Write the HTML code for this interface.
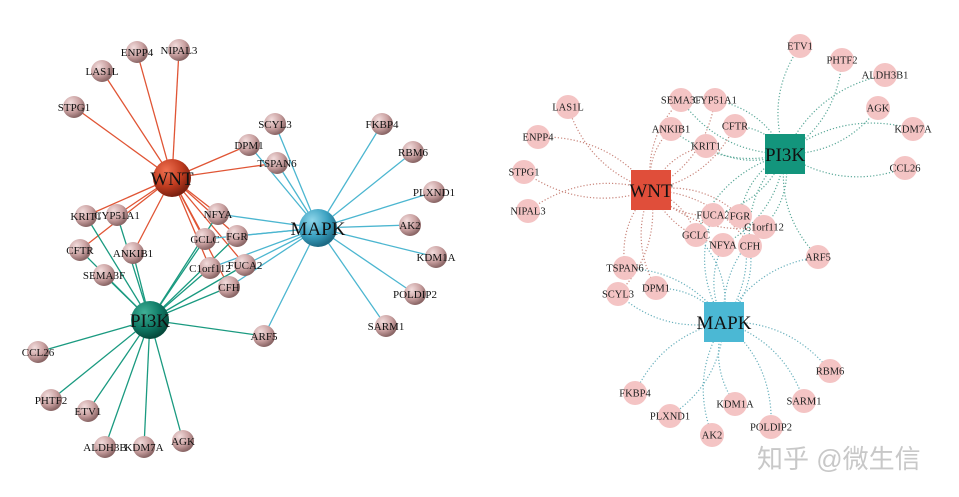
<!DOCTYPE html>
<html><head><meta charset="utf-8"><style>
html,body{margin:0;padding:0;background:#fff;}
svg{display:block;}
text{font-family:"Liberation Serif",serif;}
</style></head><body>
<svg id="s" width="959" height="497" viewBox="0 0 959 497" xmlns="http://www.w3.org/2000/svg">
<defs>
<radialGradient id="gn" cx="35%" cy="30%" r="70%"><stop offset="0" stop-color="#f2dcdc"/><stop offset="0.6" stop-color="#c9a0a0"/><stop offset="1" stop-color="#8a6666"/></radialGradient>
<radialGradient id="gw" cx="35%" cy="30%" r="70%"><stop offset="0" stop-color="#f07050"/><stop offset="0.6" stop-color="#c03c20"/><stop offset="1" stop-color="#7a2010"/></radialGradient>
<radialGradient id="gm" cx="35%" cy="30%" r="70%"><stop offset="0" stop-color="#8fd6ea"/><stop offset="0.6" stop-color="#3aa0c0"/><stop offset="1" stop-color="#1d6a84"/></radialGradient>
<radialGradient id="gp" cx="35%" cy="30%" r="70%"><stop offset="0" stop-color="#40b096"/><stop offset="0.6" stop-color="#0f7a66"/><stop offset="1" stop-color="#064a3c"/></radialGradient>
</defs>
<g id="L"></g><g id="R"></g>
<text x="757" y="468" font-family="'Noto Sans CJK SC',sans-serif" font-size="26" fill="#c8c8c8" style="font-family:'Liberation Sans','Noto Sans CJK SC',sans-serif">知乎 @微生信</text>
</svg>
<script>
var NS="http://www.w3.org/2000/svg";
function el(p,t,a,txt){var e=document.createElementNS(NS,t);for(var k in a)e.setAttribute(k,a[k]);if(txt!==undefined)e.textContent=txt;p.appendChild(e);return e;}
var L=document.getElementById("L"),R=document.getElementById("R");
// Left
var LH={WNT:[172,178,"#e05535","gw"],MAPK:[318,228,"#4cb6d0","gm"],PI3K:[150,320,"#1a9a80","gp"]};
var LN={NIPAL3:[179,50],ENPP4:[137,52],LAS1L:[102,71],STPG1:[74,107],SCYL3:[275,124],DPM1:[249,145],TSPAN6:[277,163],FKBP4:[382,124],RBM6:[413,152],PLXND1:[434,192],AK2:[410,225],KDM1A:[436,257],POLDIP2:[415,294],SARM1:[386,326],KRIT1:[86,216],CYP51A1:[117,215],NFYA:[218,214],CFTR:[80,250],ANKIB1:[133,253],GCLC:[205,239],FGR:[237,236],C1orf112:[210,268],FUCA2:[245,265],SEMA3F:[104,275],CFH:[229,287],ARF5:[264,336],CCL26:[38,352],PHTF2:[51,400],ETV1:[88,411],ALDH3B:[105,447],KDM7A:[144,447],AGK:[183,441]};
var LE={WNT:"NIPAL3 ENPP4 LAS1L STPG1 DPM1 TSPAN6 KRIT1 CYP51A1 CFTR ANKIB1 NFYA GCLC FGR C1orf112 FUCA2 CFH",
MAPK:"SCYL3 DPM1 TSPAN6 FKBP4 RBM6 PLXND1 AK2 KDM1A POLDIP2 SARM1 NFYA FGR GCLC C1orf112 FUCA2 CFH ARF5",
PI3K:"KRIT1 CYP51A1 CFTR ANKIB1 SEMA3F GCLC C1orf112 FGR NFYA CFH FUCA2 ARF5 CCL26 PHTF2 ETV1 ALDH3B KDM7A AGK"};
for(var h in LE){LE[h].split(" ").forEach(function(n){el(L,"line",{x1:LH[h][0],y1:LH[h][1],x2:LN[n][0],y2:LN[n][1],stroke:LH[h][2],"stroke-width":1.3});});}
for(var n in LN){var p=LN[n];el(L,"circle",{cx:p[0],cy:p[1],r:11,fill:"url(#gn)"});el(L,"text",{x:p[0],y:p[1]+4,"text-anchor":"middle","font-size":11,fill:"#111"},n);}
for(var h in LH){var p=LH[h];el(L,"circle",{cx:p[0],cy:p[1],r:19,fill:"url(#"+p[3]+")"});el(L,"text",{x:p[0],y:p[1]+7,"text-anchor":"middle","font-size":19,fill:"#111"},h);}
// Right
var RH={WNT:[651,190,"#e04e3a","#c9867c"],PI3K:[785,154,"#13957c","#5aa898"],MAPK:[724,322,"#4bb8d4","#68b0bc"]};
var RN={ETV1:[800,46],PHTF2:[842,60],ALDH3B1:[885,75],AGK:[878,108],KDM7A:[913,129],CCL26:[905,168],LAS1L:[568,107],ENPP4:[538,137],STPG1:[524,172],NIPAL3:[528,211],SEMA3F:[681,100],CYP51A1:[715,100],ANKIB1:[671,129],CFTR:[735,126],KRIT1:[706,146],FUCA2:[713,215],FGR:[740,216],C1orf112:[764,227],GCLC:[696,235],NFYA:[723,245],CFH:[750,246],ARF5:[818,257],TSPAN6:[625,268],SCYL3:[618,294],DPM1:[656,288],RBM6:[830,371],FKBP4:[635,393],SARM1:[804,401],KDM1A:[735,404],PLXND1:[670,416],AK2:[712,435],POLDIP2:[771,427]};
var RE={WNT:"LAS1L ENPP4 STPG1 NIPAL3 SEMA3F CYP51A1 ANKIB1 CFTR KRIT1 FUCA2 FGR C1orf112 GCLC NFYA CFH TSPAN6 SCYL3 DPM1",
PI3K:"ETV1 PHTF2 ALDH3B1 AGK KDM7A CCL26 SEMA3F CYP51A1 ANKIB1 CFTR KRIT1 FGR C1orf112 GCLC NFYA CFH FUCA2 ARF5",
MAPK:"RBM6 FKBP4 SARM1 KDM1A PLXND1 AK2 POLDIP2 TSPAN6 SCYL3 DPM1 FUCA2 FGR C1orf112 GCLC NFYA CFH ARF5"};
for(var h in RE){RE[h].split(" ").forEach(function(n,i){var a=RH[h],b=RN[n];var mx=(a[0]+b[0])/2,my=(a[1]+b[1])/2;var dx=b[0]-a[0],dy=b[1]-a[1];var s=(i%2?0.25:-0.25);
el(R,"path",{d:"M"+a[0]+" "+a[1]+" Q"+(mx-dy*s)+" "+(my+dx*s)+" "+b[0]+" "+b[1],fill:"none",stroke:a[3],"stroke-width":1.2,"stroke-dasharray":"1.2 2"});});}
for(var n in RN){var p=RN[n];el(R,"circle",{cx:p[0],cy:p[1],r:12,fill:"#f4c4c4"});el(R,"text",{x:p[0],y:p[1]+3.5,"text-anchor":"middle","font-size":10.5,fill:"#222"},n);}
for(var h in RH){var p=RH[h];el(R,"rect",{x:p[0]-20,y:p[1]-20,width:40,height:40,fill:p[2]});el(R,"text",{x:p[0],y:p[1]+7,"text-anchor":"middle","font-size":19,fill:"#111"},h);}
</script>
</body></html>
